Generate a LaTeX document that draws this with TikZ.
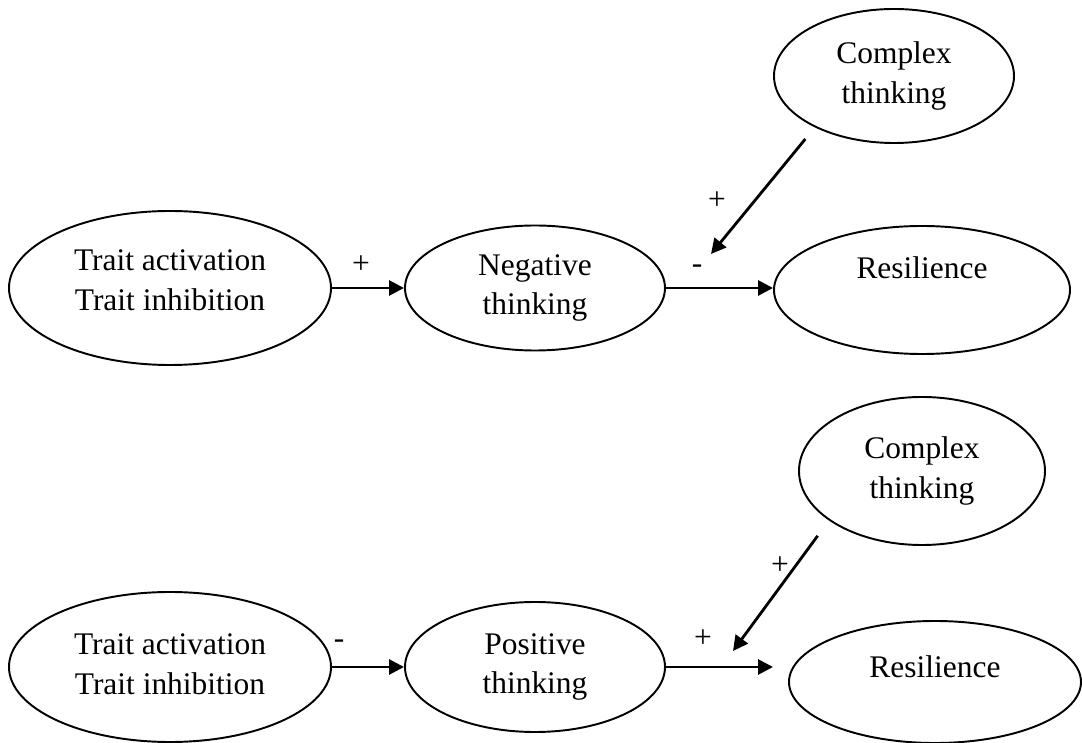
\documentclass[tikz,border=0pt]{standalone}
\usepackage{fontspec}
\setmainfont{Liberation Serif}
\usetikzlibrary{shapes.geometric,arrows.meta}
\begin{document}
\begin{tikzpicture}[line join=round, >={Triangle[length=3mm,width=3mm]}, line width=1.6pt]
	\tikzset{every node/.style={font=\fontsize{17.9}{22.3}\selectfont},
		oval/.style={draw, ellipse, line width=1.1pt, inner sep=0pt, align=center},
		sign/.style={text height=0.31cm, text depth=0pt, inner sep=0pt}}
	\useasboundingbox (0,0) rectangle (21.64,14.86);
	\node[oval, minimum width=6.44cm, minimum height=3.08cm, text depth=0.32cm] (trait1) at (3.40,9.10) {Trait activation\\Trait inhibition};
	\node[oval, minimum width=5.2cm, minimum height=2.5cm] (neg) at (10.70,9.10) {Negative\\thinking};
	\node[oval, minimum width=5.92cm, minimum height=2.56cm, text depth=0.88cm] (res1) at (18.44,9.06) {Resilience};
	\node[oval, minimum width=4.8cm, minimum height=2.68cm] (cpx1) at (17.88,13.34) {Complex\\thinking};
	\node[oval, minimum width=6.44cm, minimum height=3.0cm, text depth=0.12cm] (trait2) at (3.40,1.52) {Trait activation\\Trait inhibition};
	\node[oval, minimum width=5.2cm, minimum height=2.6cm] (pos) at (10.70,1.52) {Positive\\thinking};
	\node[oval, minimum width=5.84cm, minimum height=2.44cm, text depth=0.6cm] (res2) at (18.70,1.22) {Resilience};
	\node[oval, minimum width=4.92cm, minimum height=2.96cm] (cpx2) at (18.44,5.44) {Complex\\thinking};
	\coordinate (m1) at (14.22,9.78);
	\coordinate (m2) at (14.66,1.84);
	\coordinate (e2) at (15.46,1.52);
	\draw[->] (trait1.east) -- (neg.west);
	\draw[->] (neg.east) -- (neg.east -| res1.west);
	\draw[->, shorten <=0.3cm] (cpx1.213) -- (m1);
	\draw[->] (trait2.east) -- (pos.west);
	\draw[->] (pos.east) -- (e2);
	\draw[->, shorten <=0.38cm] (cpx2.208) -- (m2);
	\node[sign] (p1) at (7.22,9.54) {+};
	\node[sign] (n1) at (13.94,9.54) {-};
	\node[sign] (p2) at (14.34,10.82) {+};
	\node[sign] (n2) at (6.78,2.04) {-};
	\node[sign] (p3) at (14.06,2.06) {+};
	\node[sign] (p4) at (15.60,3.52) {+};
\end{tikzpicture}
\end{document}
